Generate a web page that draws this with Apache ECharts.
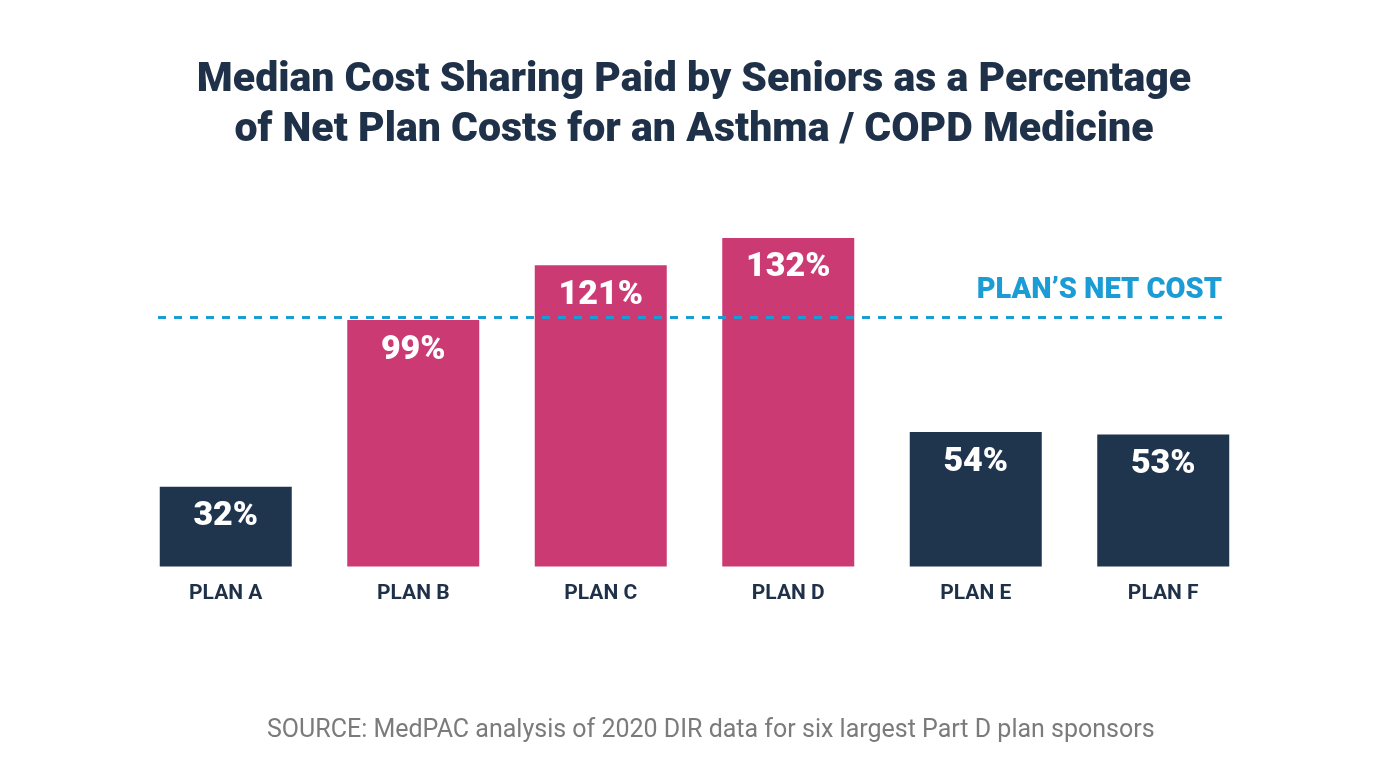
<!DOCTYPE html>
<html><head><meta charset="utf-8">
<script src="https://cdn.jsdelivr.net/npm/echarts@6/dist/echarts.min.js"></script>
<style>html,body{margin:0;padding:0;background:#fff}#c{width:1388px;height:780px}</style>
</head><body><div id="c"></div>
<script>
const categories = ['PLAN A','PLAN B','PLAN C','PLAN D','PLAN E','PLAN F'];
const values = [32, 99, 121, 132, 54, 53];
const highlight = [false, true, true, true, false, false];
const netCostLevel = 100;
const netCostLabel = 'PLAN\u2019S NET COST';
const titleText = 'Median Cost Sharing Paid by Seniors as a Percentage\nof Net Plan Costs for an Asthma / COPD Medicine';
const sourceText = 'SOURCE: MedPAC analysis of 2020 DIR data for six largest Part D plan sponsors';

const NAVY = '#1f344d', PINK = '#cc3a74', BLUE = '#1b9cd5';
const chart = echarts.init(document.getElementById('c'), null, {renderer:'canvas'});
chart.setOption({
  backgroundColor: '#fff',
  animation: false,
  title: [
    {text: titleText, left: 'center', top: 51,
     textStyle: {fontFamily: 'Roboto', fontWeight: 900, fontSize: 41, lineHeight: 50, color: '#1f3049'}},
    {text: sourceText, left: 262, top: 713,
     textStyle: {fontFamily: 'Roboto', fontWeight: 400, fontSize: 25, color: '#7b7b7b'}}
  ],
  grid: {left: 132, right: 131, top: 218, bottom: 213.5, containLabel: false},
  xAxis: {type: 'category', data: categories,
    axisLine: {show: false}, axisTick: {show: false},
    axisLabel: {margin: 17, color: '#1f3049', fontFamily: 'Roboto', fontWeight: 700, fontSize: 21}},
  yAxis: {type: 'value', min: 0, max: 140, show: false, splitLine: {show: false}},
  series: [{
    type: 'bar', barWidth: 132,
    data: values.map((v, i) => ({value: v, itemStyle: {color: highlight[i] ? PINK : NAVY}})),
    label: {show: true, position: 'insideTop', distance: 13, formatter: '{c}%',
      color: '#fff', fontFamily: 'Roboto', fontWeight: 900, fontSize: 34},
    markLine: {
      silent: true, symbol: 'none', z: 10,
      lineStyle: {color: BLUE, width: 3, type: [8, 8]},
      label: {show: true, position: 'insideEndTop', formatter: netCostLabel, distance: [0, 12],
        color: BLUE, fontFamily: 'Roboto', fontWeight: 900, fontSize: 29},
      data: [[{x: 158, yAxis: netCostLevel}, {x: 1222, yAxis: netCostLevel}]]
    }
  }]
});
</script></body></html>
